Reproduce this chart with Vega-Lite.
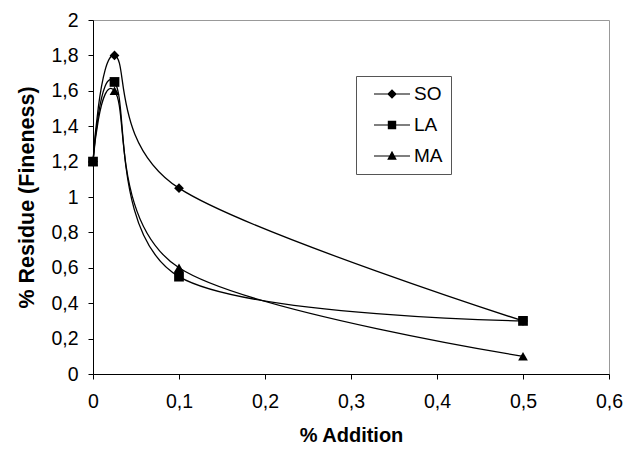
{
  "$schema": "https://vega.github.io/schema/vega-lite/v6.json",
  "width": 516,
  "height": 354,
  "autosize": "none",
  "padding": {"left": 93, "top": 20, "right": 27, "bottom": 75},
  "background": "white",
  "config": {
    "font": "Liberation Sans",
    "view": {"stroke": "#999999", "strokeWidth": 1},
    "axis": {
      "grid": false,
      "domainColor": "black",
      "tickColor": "black",
      "labelColor": "black",
      "titleColor": "black",
      "labelFontSize": 19.5,
      "titleFontSize": 20,
      "titleFontWeight": "bold",
      "tickSize": 5,
      "labelFlush": false,
      "labelOverlap": false
    }
  },
  "data": {
    "values": [
      {"series": "SO", "x": 0, "y": 1.2},
      {"series": "SO", "x": 0.025, "y": 1.8},
      {"series": "SO", "x": 0.1, "y": 1.05},
      {"series": "SO", "x": 0.5, "y": 0.3},
      {"series": "LA", "x": 0, "y": 1.2},
      {"series": "LA", "x": 0.025, "y": 1.65},
      {"series": "LA", "x": 0.1, "y": 0.55},
      {"series": "LA", "x": 0.5, "y": 0.3},
      {"series": "MA", "x": 0, "y": 1.2},
      {"series": "MA", "x": 0.025, "y": 1.6},
      {"series": "MA", "x": 0.1, "y": 0.6},
      {"series": "MA", "x": 0.5, "y": 0.1}
    ]
  },
  "encoding": {
    "x": {
      "field": "x", "type": "quantitative",
      "scale": {"domain": [0, 0.6], "nice": false},
      "axis": {"values": [0, 0.1, 0.2, 0.3, 0.4, 0.5, 0.6], "labelExpr": "replace(format(datum.value, '~g'), '.', ',')", "title": "% Addition", "titlePadding": 15, "labelPadding": 13}
    },
    "y": {
      "field": "y", "type": "quantitative",
      "scale": {"domain": [0, 2], "nice": false},
      "axis": {"values": [0, 0.2, 0.4, 0.6, 0.8, 1, 1.2, 1.4, 1.6, 1.8, 2], "labelExpr": "replace(format(datum.value, '~g'), '.', ',')", "title": "% Residue (Fineness)", "titleFontSize": 21.5, "titlePadding": 12, "labelPadding": 10}
    }
  },
  "resolve": {"scale": {"shape": "independent"}},
  "layer": [
    {
      "mark": {"type": "line", "interpolate": "cardinal", "strokeWidth": 1.3, "color": "black"},
      "encoding": {"detail": {"field": "series"}}
    },
    {
      "mark": {"type": "point", "filled": true, "opacity": 1, "color": "black", "size": 95},
      "encoding": {
        "shape": {
          "field": "series", "type": "nominal",
          "scale": {"domain": ["SO", "LA", "MA"], "range": ["diamond", "square", "triangle-up"]},
          "legend": null
        }
      }
    },
    {
      "mark": {"type": "point", "filled": true, "color": "black", "opacity": 0, "size": 1},
      "encoding": {
        "shape": {
          "field": "series", "type": "nominal",
          "scale": {"domain": ["SO", "LA", "MA"], "range": ["M-1.8,-0.06H1.8V0.06H-1.8ZM0,-0.48L0.48,0L0,0.48L-0.48,0Z", "M-1.8,-0.06H1.8V0.06H-1.8ZM-0.42,-0.42H0.42V0.42H-0.42Z", "M-1.8,-0.06H1.8V0.06H-1.8ZM0,-0.52L0.48,0.38H-0.48Z"]},
          "legend": {
            "title": null,
            "orient": "none",
            "legendX": 263,
            "legendY": 56,
            "padding": 8,
            "strokeColor": "#555555",
            "fillColor": "white",
            "labelFontSize": 19,
            "labelColor": "black",
            "symbolSize": 400,
            "symbolOpacity": 1,
            "symbolFillColor": "black",
            "symbolStrokeWidth": 0,
            "symbolOffset": 18,
            "rowPadding": 11,
            "labelOffset": 12
          }
        }
      }
    }
  ]
}
